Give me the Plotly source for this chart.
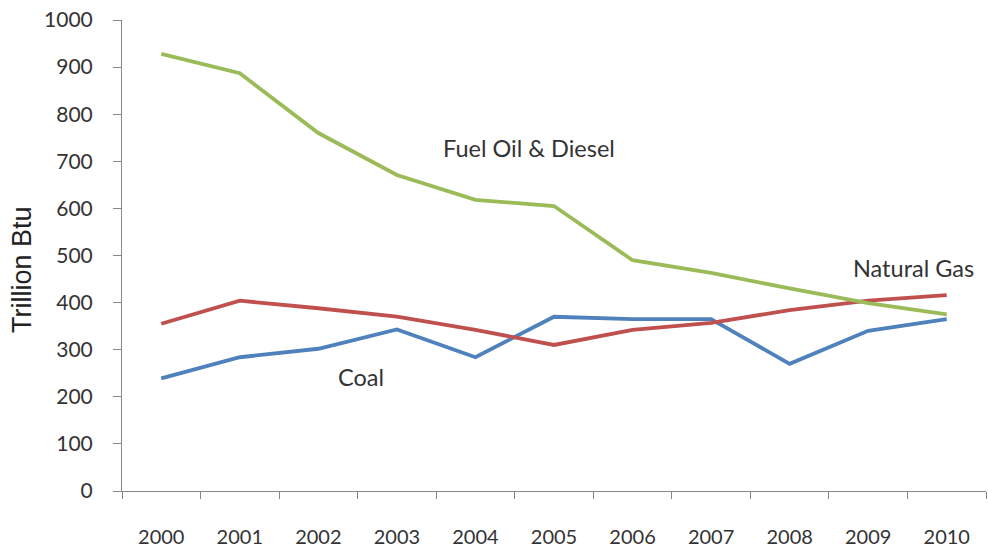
import plotly.graph_objects as go

years = ["2000", "2001", "2002", "2003", "2004", "2005", "2006", "2007", "2008", "2009", "2010"]
fuel_oil = [928, 887, 760, 671, 618, 605, 490, 463, 430, 399, 375]
natural_gas = [355, 404, 388, 370, 342, 310, 342, 357, 384, 404, 416]
coal = [239, 284, 302, 343, 284, 370, 365, 365, 270, 340, 365]
y_ticks = [0, 100, 200, 300, 400, 500, 600, 700, 800, 900, 1000]

series = [
    ("Coal", coal, "#4F81BD"),
    ("Natural Gas", natural_gas, "#C0504D"),
    ("Fuel Oil & Diesel", fuel_oil, "#9BBB59"),
]

fig = go.Figure()
for name, vals, color in series:
    fig.add_trace(go.Scatter(x=years, y=vals, mode="lines", name=name,
                             line=dict(color=color, width=3.8)))

label_font = dict(family="Lato, 'Open Sans', sans-serif", size=23.5, color="#333333")
fig.add_annotation(x=4.68, y=728, xref="x", yref="y", text="Fuel Oil & Diesel",
                   showarrow=False, font=label_font)
fig.add_annotation(x=2.54, y=242, xref="x", yref="y", text="Coal",
                   showarrow=False, font=label_font)
fig.add_annotation(x=9.58, y=473, xref="x", yref="y", text="Natural Gas",
                   showarrow=False, font=label_font)
fig.add_annotation(x=(22 - 122) / 864, y=0.469, xref="paper", yref="paper",
                   text="Trillion Btu", textangle=-90, showarrow=False,
                   xanchor="center", yanchor="middle",
                   font=dict(family="'Liberation Sans', Arial, sans-serif", size=27, color="#222222"))

fig.update_layout(
    width=988, height=551,
    margin=dict(l=122, r=2, t=20, b=60),
    plot_bgcolor="white", paper_bgcolor="white",
    showlegend=False,
    xaxis=dict(type="category", range=[-0.5, 10.5], showline=True, linecolor="#888888",
               linewidth=1, ticks="outside", tickson="boundaries", ticklen=7,
               tickcolor="#888888", showgrid=False, zeroline=False,
               tickfont=dict(family="Lato, 'Open Sans', sans-serif", size=20, color="#333333"),
               ticklabelstandoff=28),
    yaxis=dict(range=[0, 1000], tickvals=y_ticks, showline=True, linecolor="#888888",
               linewidth=1, ticks="outside", ticklen=8, tickcolor="#888888",
               showgrid=False, zeroline=False,
               tickfont=dict(family="Lato, 'Open Sans', sans-serif", size=21, color="#333333"),
               ticklabelstandoff=16),
)

fig.write_html("out.html")
